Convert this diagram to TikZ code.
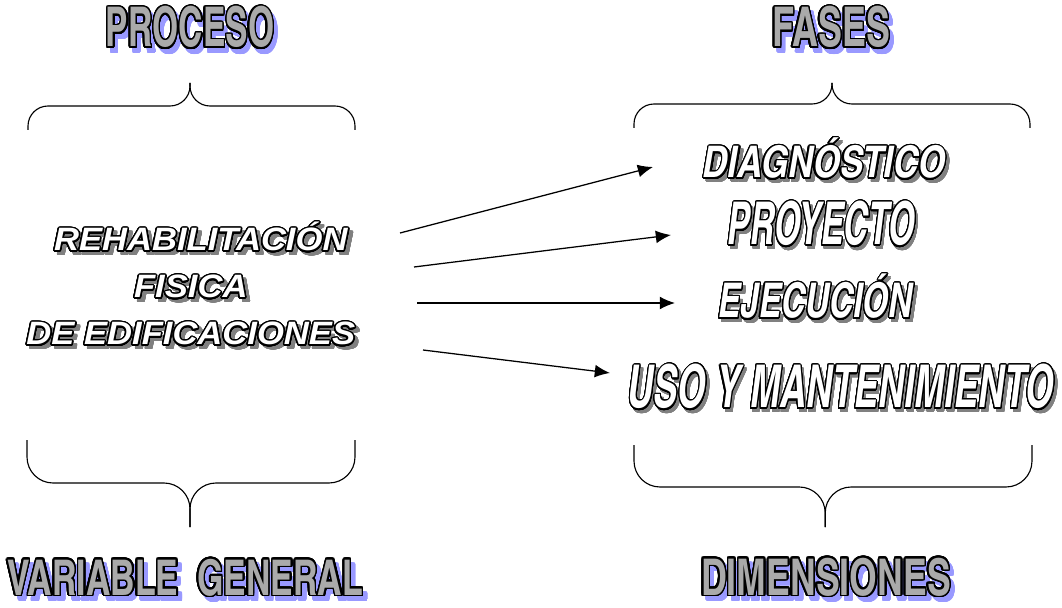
\documentclass[tikz,border=0pt]{standalone}
\usepackage{fontspec}
\usepackage{contour}
\usetikzlibrary{arrows.meta}
\newfontfamily\narrowfont{TeX Gyre Heros Cn}
\newfontfamily\wideitfont{Liberation Sans}
\definecolor{shblue}{RGB}{153,153,255}
\definecolor{shgray}{RGB}{128,128,128}
\definecolor{fillgray}{RGB}{170,170,170}
\contournumber{32}

% outlined word with a solid drop shadow: shadow colour, fill colour, shift, text
\newcommand{\artword}[4]{%
  \rlap{\hspace*{#3}\raisebox{-#3}{\color{#1}\contour{#1}{#4}}}%
  {\color{#2}\contour{black}{#4}}}

\begin{document}
\begin{tikzpicture}[>={Latex[length=0.38cm,width=0.32cm]},
  headword/.style={inner sep=0pt,anchor=base,transform shape,
    font=\narrowfont\bfseries\fontsize{39}{39}\selectfont\contourlength{1.3pt}},
  phaseword/.style={inner sep=0pt,anchor=base,transform shape,
    font=\narrowfont\bfseries\itshape\fontsize{#1}{#1}\selectfont\contourlength{1pt}},
  mainword/.style={inner sep=0pt,anchor=base,transform shape,xscale=1.07,
    font=\wideitfont\bfseries\itshape\fontsize{23}{23}\selectfont\contourlength{1pt}},
  curly/.style={line width=0.8pt,rounded corners=#1},
  link/.style={->,line width=0.9pt}]
  \useasboundingbox (0,0) rectangle (26.55,15.175);

  % headings
  \node[headword,xscale=0.75] (proceso) at (4.75,14.0) {\artword{shblue}{fillgray}{3.5pt}{PROCESO}};
  \node[headword,xscale=0.8] (fases) at (20.78,14.0) {\artword{shblue}{fillgray}{3.5pt}{FASES}};
  \node[headword,font=\narrowfont\bfseries\fontsize{35}{35}\selectfont\contourlength{1.3pt},xscale=0.84]
    (variable) at (4.63,0.3) {\artword{shblue}{fillgray}{3.5pt}{VARIABLE\ \ GENERAL}};
  \node[headword,font=\narrowfont\bfseries\fontsize{36}{36}\selectfont\contourlength{1.3pt},xscale=0.86]
    (dimensiones) at (20.65,0.3) {\artword{shblue}{fillgray}{3.5pt}{DIMENSIONES}};

  % the variable
  \node[mainword] (rehab) at (5.02,8.9) {\artword{shgray}{white}{2.5pt}{REHABILITACIÓN}};
  \node[mainword] (fisica) at (4.77,7.725) {\artword{shgray}{white}{2.5pt}{FISICA}};
  \node[mainword] (edif) at (4.77,6.55) {\artword{shgray}{white}{2.5pt}{DE EDIFICACIONES}};

  % the phases
  \node[phaseword=31,xscale=0.97] (diag) at (20.6,10.725) {\artword{shgray}{white}{2.5pt}{DIAGNÓSTICO}};
  \node[phaseword=42,xscale=0.7] (proy) at (20.53,9.05) {\artword{shgray}{white}{2.5pt}{PROYECTO}};
  \node[phaseword=34,xscale=0.85] (ejec) at (20.39,7.225) {\artword{shgray}{white}{2.5pt}{EJECUCIÓN}};
  \node[phaseword=42,xscale=0.745] (uso) at (21.02,4.975) {\artword{shgray}{white}{2.5pt}{USO Y MANTENIMIENTO}};

  % braces
  \draw[curly=0.5cm] (0.7,11.925) |- (4.75,12.525) -- (4.75,13.1);
  \draw[curly=0.5cm] (8.875,11.925) |- (4.75,12.525) -- (4.75,13.1);
  \draw[curly=0.5cm] (15.85,11.975) |- (20.8,12.575) -- (20.8,13.1);
  \draw[curly=0.5cm] (25.75,11.975) |- (20.8,12.575) -- (20.8,13.1);
  \draw[curly=0.65cm] (0.675,4.175) |- (4.75,3.1) -- (4.75,2.0);
  \draw[curly=0.65cm] (8.875,4.175) |- (4.75,3.1) -- (4.75,2.0);
  \draw[curly=0.65cm] (15.85,4.05) |- (20.63,3.0) -- (20.63,2.0);
  \draw[curly=0.65cm] (25.8,4.05) |- (20.63,3.0) -- (20.63,2.0);

  % arrows
  \coordinate (fromA) at (10.0,9.35);
  \coordinate (fromB) at (10.35,8.5);
  \coordinate (fromC) at (10.425,7.6);
  \coordinate (fromD) at (10.575,6.425);
  \coordinate (toDiag) at (16.325,11.0);
  \coordinate (toProy) at (16.775,9.3);
  \coordinate (toEjec) at (16.875,7.6);
  \coordinate (toUso) at (15.25,5.85);
  \draw[link] (fromA) -- (toDiag);
  \draw[link] (fromB) -- (toProy);
  \draw[link] (fromC) -- (toEjec);
  \draw[link] (fromD) -- (toUso);
\end{tikzpicture}
\end{document}
